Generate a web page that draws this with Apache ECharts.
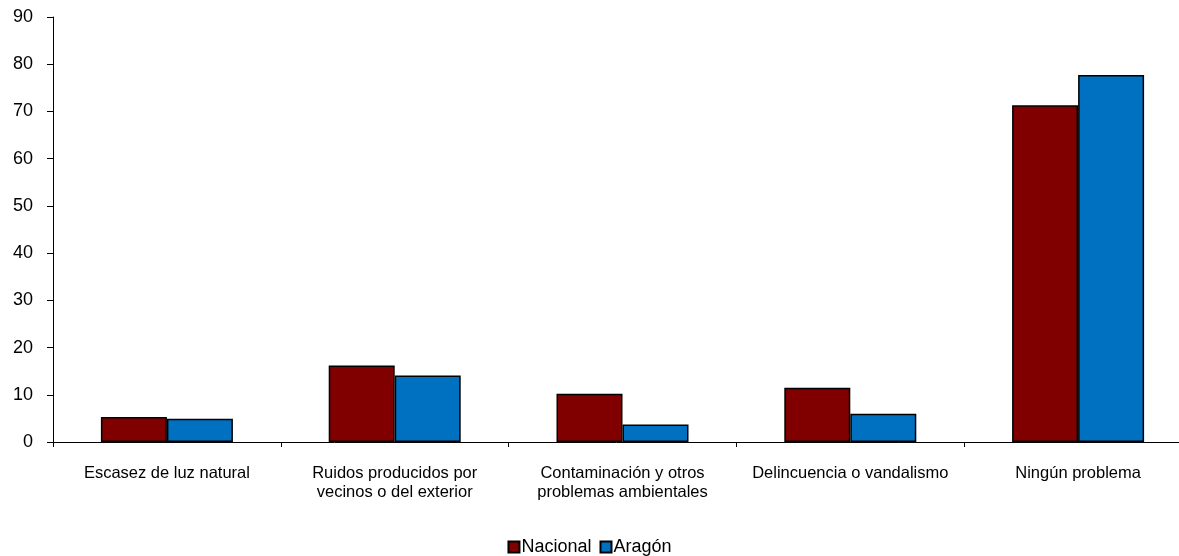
<!DOCTYPE html>
<html><head><meta charset="utf-8">
<script src="https://cdn.jsdelivr.net/npm/echarts@6/dist/echarts.min.js"></script>
<style>html,body{margin:0;padding:0;background:#fff}#c{width:1179px;height:556px}</style>
</head><body><div id="c"></div>
<script>
const categories = ["Escasez de luz natural", "Ruidos producidos por\nvecinos o del exterior", "Contaminación y otros\nproblemas ambientales", "Delincuencia o vandalismo", "Ningún problema"];
const nacional = [5.3, 16.2, 10.2, 11.5, 71.3];
const aragon = [4.9, 14.1, 3.7, 6.0, 77.7];
const seriesNames = ["Nacional", "Aragón"];
const chart = echarts.init(document.getElementById('c'));
chart.setOption({
  animation: false,
  grid: {left: 53, width: 1139, top: 17, height: 425, containLabel: false, outerBoundsMode: 'none'},
  legend: {
    top: 533, left: 'center', itemWidth: 11, itemHeight: 11, itemGap: 8,
    icon: 'rect',
    textStyle: {fontFamily: 'Liberation Sans', fontSize: 18, color: '#000', padding: [0,0,0,-3]},
    data: seriesNames
  },
  xAxis: {
    type: 'category', data: categories,
    axisLine: {lineStyle: {color: '#000', width: 1}},
    axisTick: {show: true, length: 5, lineStyle: {color: '#000'}},
    axisLabel: {color: '#000', fontFamily: 'Liberation Sans', fontSize: 16.5, margin: 22, lineHeight: 19, interval: 0}
  },
  yAxis: {
    type: 'value', min: 0, max: 90, interval: 10,
    splitLine: {show: false},
    axisLine: {show: true, lineStyle: {color: '#000', width: 1}},
    axisTick: {show: true, length: 6, lineStyle: {color: '#000'}},
    axisLabel: {color: '#000', fontFamily: 'Liberation Sans', fontSize: 18, margin: 20}
  },
  series: [
    {name: seriesNames[0], type: 'bar', data: nacional, barWidth: 66, barGap: '0%',
     itemStyle: {color: '#800000', borderColor: '#000', borderWidth: 1.5}},
    {name: seriesNames[1], type: 'bar', data: aragon, barWidth: 66,
     itemStyle: {color: '#0070C0', borderColor: '#000', borderWidth: 1.5}}
  ]
});
</script></body></html>
